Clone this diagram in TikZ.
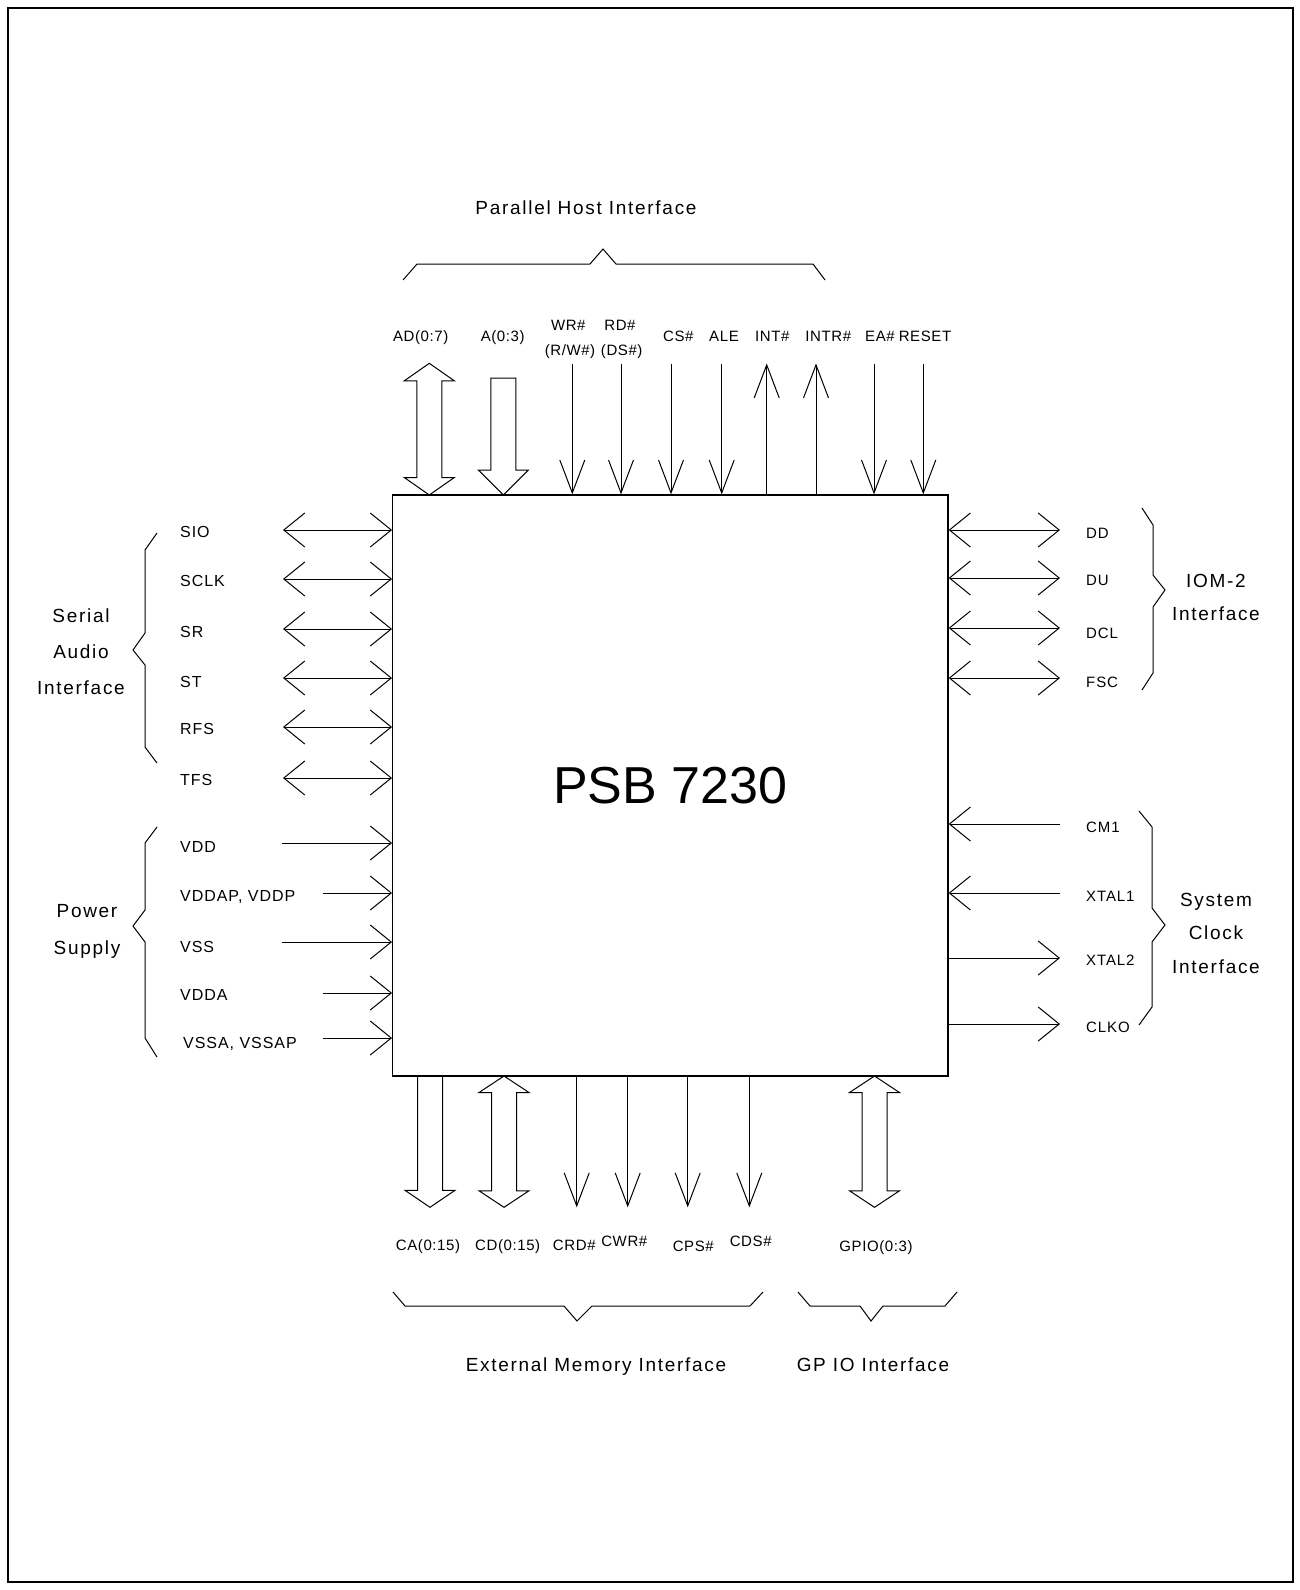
\documentclass[tikz,border=0pt]{standalone}
\usepackage{fontspec}
\setmainfont{Liberation Sans}
\newfontfamily\pinfont[LetterSpace=4]{Liberation Sans}
\newfontfamily\pinwidefont[LetterSpace=6]{Liberation Sans}
\newfontfamily\grpfont[LetterSpace=9]{Liberation Sans}
\newfontfamily\chipfont{Liberation Sans}
\usetikzlibrary{arrows.meta}
\tikzset{
  plab/.style={font=\pinfont\fontsize{15}{17}\selectfont, anchor=base, yshift=-5.4pt, inner sep=0pt},
  plabw/.style={font=\pinwidefont\fontsize{16}{18}\selectfont, anchor=base west, yshift=-5.7pt, inner sep=0pt},
  rlab/.style={font=\pinwidefont\fontsize{15}{17}\selectfont, anchor=base west, yshift=-5.4pt, inner sep=0pt},
  glab/.style={font=\grpfont\fontsize{19}{22}\selectfont, anchor=base, yshift=-6.8pt, inner sep=0pt},
  wire/.style={line width=1pt, line join=miter},
  vbarb/.style={wire, -{Straight Barb[length=33pt,width=25pt]}},
  hbarb/.style={wire, -{Straight Barb[length=21pt,width=34pt]}},
  hdbl/.style={wire, {Straight Barb[length=21pt,width=34pt]}-{Straight Barb[length=21pt,width=34pt]}},
  hollow/.style={line width=1pt, line join=miter},
  brace/.style={line width=1pt},
  chipbox/.style={draw, line width=1.3pt, minimum width=555.3pt, minimum height=581pt, inner sep=0pt,
    font=\chipfont\fontsize{52}{60}\selectfont}
}
% hollow double arrow: x, ytop, ybot, head length
\newcommand\hdoublearrow[4]{%
  \draw[hollow] (#1,#2) -- (#1+25,#2+#4) -- (#1+12.5,#2+#4) -- (#1+12.5,#3-#4) -- (#1+25,#3-#4)
   -- (#1,#3) -- (#1-25,#3-#4) -- (#1-12.5,#3-#4) -- (#1-12.5,#2+#4) -- (#1-25,#2+#4) -- cycle;}
% hollow single down arrow: x, ytop, ytip, head length
\newcommand\hdownarrow[4]{%
  \draw[hollow] (#1-12.5,#2) -- (#1+12.5,#2) -- (#1+12.5,#3-#4) -- (#1+25,#3-#4) -- (#1,#3)
   -- (#1-25,#3-#4) -- (#1-12.5,#3-#4) -- cycle;}
\begin{document}
\begin{tikzpicture}[x=1pt,y=-1pt]
\useasboundingbox (0,0) rectangle (1300,1590);
\draw[line width=1.5pt] (8,8) rectangle (1293,1582);

% chip
\node[chipbox] (chip) at (670.35,785.5) {PSB 7230};

% ---------- top ----------
\node[glab] (phi) at (586,208) {Parallel Host Interface};
\draw[brace] (403,280) -- (417,264) -- (590,264) -- (603,249) -- (616,264) -- (813,264) -- (825,280);

\hdoublearrow{429.3}{363.3}{495}{17.5}
\hdownarrow{503.3}{378}{495}{25}

\coordinate (wr) at (572.3,363.5);
\coordinate (rd) at (621,363.5);
\coordinate (cs) at (671,363.5);
\coordinate (ale) at (721.7,363.5);
\coordinate (int) at (766.7,363.5);
\coordinate (intr) at (816,363.5);
\coordinate (ea) at (874,363.5);
\coordinate (reset) at (923.3,363.5);
\foreach \p in {wr,rd,cs,ale,ea,reset} \draw[vbarb] (\p) -- (\p |- chip.north);
\foreach \p in {int,intr} \draw[vbarb] (\p |- chip.north) -- (\p);

\node[plab] (lad) at (420.7,336.5) {AD(0:7)};
\node[plab] (la) at (502.7,336.5) {A(0:3)};
\node[plab] (lwr) at (568.3,325) {WR\#};
\node[plab] (lrw) at (570,350) {(R/W\#)};
\node[plab] (lrd) at (620,325) {RD\#};
\node[plab] (lds) at (621.7,350) {(DS\#)};
\node[plab] (lcs) at (678.3,336) {CS\#};
\node[plab] (lale) at (724,336) {ALE};
\node[plab] (lint) at (772.3,336) {INT\#};
\node[plab] (lintr) at (828.3,336) {INTR\#};
\node[plab] (lea) at (880,336) {EA\#};
\node[plab] (lreset) at (925,336) {RESET};

% ---------- left ----------
\node[glab] (g1) at (81,616) {Serial};
\node[glab] (g2) at (81,652) {Audio};
\node[glab] (g3) at (81,688) {Interface};
\draw[brace] (157,533) -- (145,550) -- (145,633) -- (133,650) -- (145,665) -- (145,747) -- (157,763);

\coordinate (sio) at (283,530);
\coordinate (sclk) at (283,579);
\coordinate (sr) at (283,629);
\coordinate (st) at (283,678);
\coordinate (rfs) at (283,727);
\coordinate (tfs) at (283,778);
\foreach \p in {sio,sclk,sr,st,rfs,tfs} \draw[hdbl] (\p) -- (\p -| chip.west);
\node[plabw] (lsio) at (180,532) {SIO};
\node[plabw] (lsclk) at (180,581) {SCLK};
\node[plabw] (lsr) at (180,632) {SR};
\node[plabw] (lst) at (180,682) {ST};
\node[plabw] (lrfs) at (180,729) {RFS};
\node[plabw] (ltfs) at (180,780) {TFS};

\node[glab] (g4) at (87,911) {Power};
\node[glab] (g5) at (87,948) {Supply};
\draw[brace] (157,827) -- (145,843) -- (145,910) -- (133,926) -- (145,942) -- (145,1038) -- (157,1057);

\coordinate (vdd) at (282,843);
\coordinate (vddap) at (323,893);
\coordinate (vss) at (282,942);
\coordinate (vdda) at (323,993);
\coordinate (vssa) at (323,1038);
\foreach \p in {vdd,vddap,vss,vdda,vssa} \draw[hbarb] (\p) -- (\p -| chip.west);
\node[plabw] (lvdd) at (180,847) {VDD};
\node[plabw] (lvddap) at (180,896) {VDDAP, VDDP};
\node[plabw] (lvss) at (180,947) {VSS};
\node[plabw] (lvdda) at (180,995) {VDDA};
\node[plabw] (lvssa) at (183,1043) {VSSA, VSSAP};

% ---------- right ----------
\coordinate (dd) at (1060,530);
\coordinate (du) at (1060,578);
\coordinate (dcl) at (1060,628);
\coordinate (fsc) at (1060,678);
\foreach \p in {dd,du,dcl,fsc} \draw[hdbl] (\p -| chip.east) -- (\p);
\node[rlab] (ldd) at (1086,533) {DD};
\node[rlab] (ldu) at (1086,580) {DU};
\node[rlab] (ldcl) at (1086,633) {DCL};
\node[rlab] (lfsc) at (1086,682) {FSC};
\draw[brace] (1142,508) -- (1153,525) -- (1153,575) -- (1165,590) -- (1153,607) -- (1153,673) -- (1142,690);
\node[glab] (g6) at (1216,581) {IOM-2};
\node[glab] (g7) at (1216,614) {Interface};

\coordinate (cm1) at (1060,824);
\coordinate (xtal1) at (1060,893);
\coordinate (xtal2) at (1060,958);
\coordinate (clko) at (1060,1024);
\foreach \p in {cm1,xtal1} \draw[hbarb] (\p) -- (\p -| chip.east);
\foreach \p in {xtal2,clko} \draw[hbarb] (\p -| chip.east) -- (\p);
\node[rlab] (lcm1) at (1086,827) {CM1};
\node[rlab] (lxtal1) at (1086,896) {XTAL1};
\node[rlab] (lxtal2) at (1086,960) {XTAL2};
\node[rlab] (lclko) at (1086,1027) {CLKO};
\draw[brace] (1139,811) -- (1152,827) -- (1152,908) -- (1165,925) -- (1152,942) -- (1152,1007) -- (1139,1025);
\node[glab] (g8) at (1216,900) {System};
\node[glab] (g9) at (1216,933) {Clock};
\node[glab] (g10) at (1216,967) {Interface};

% ---------- bottom ----------
\hdownarrow{430}{1076}{1207.3}{17}
\hdoublearrow{504}{1076}{1207.3}{16.5}
\hdoublearrow{874.5}{1076}{1207.3}{16.5}
\coordinate (crd) at (576.7,1207.3);
\coordinate (cwr) at (627.7,1207.3);
\coordinate (cps) at (687.7,1207.3);
\coordinate (cds) at (749.3,1207.3);
\foreach \p in {crd,cwr,cps,cds} \draw[vbarb] (\p |- chip.south) -- (\p);

\node[plab] (lca) at (428,1245) {CA(0:15)};
\node[plab] (lcd) at (507.7,1245) {CD(0:15)};
\node[plab] (lcrd) at (574.3,1245) {CRD\#};
\node[plab] (lcwr) at (624.3,1241) {CWR\#};
\node[plab] (lcps) at (693.3,1246) {CPS\#};
\node[plab] (lcds) at (750.7,1241) {CDS\#};
\node[plab] (lgpio) at (876,1246) {GPIO(0:3)};

\draw[brace] (393,1292) -- (405,1306) -- (564,1306) -- (577,1321) -- (592,1306) -- (750,1306) -- (763,1292);
\draw[brace] (798,1292) -- (810,1306) -- (860,1306) -- (871,1321) -- (883,1306) -- (945,1306) -- (957,1292);
\node[glab] (g11) at (596,1365) {External Memory Interface};
\node[glab] (g12) at (873,1365) {GP IO Interface};
\end{tikzpicture}
\end{document}
